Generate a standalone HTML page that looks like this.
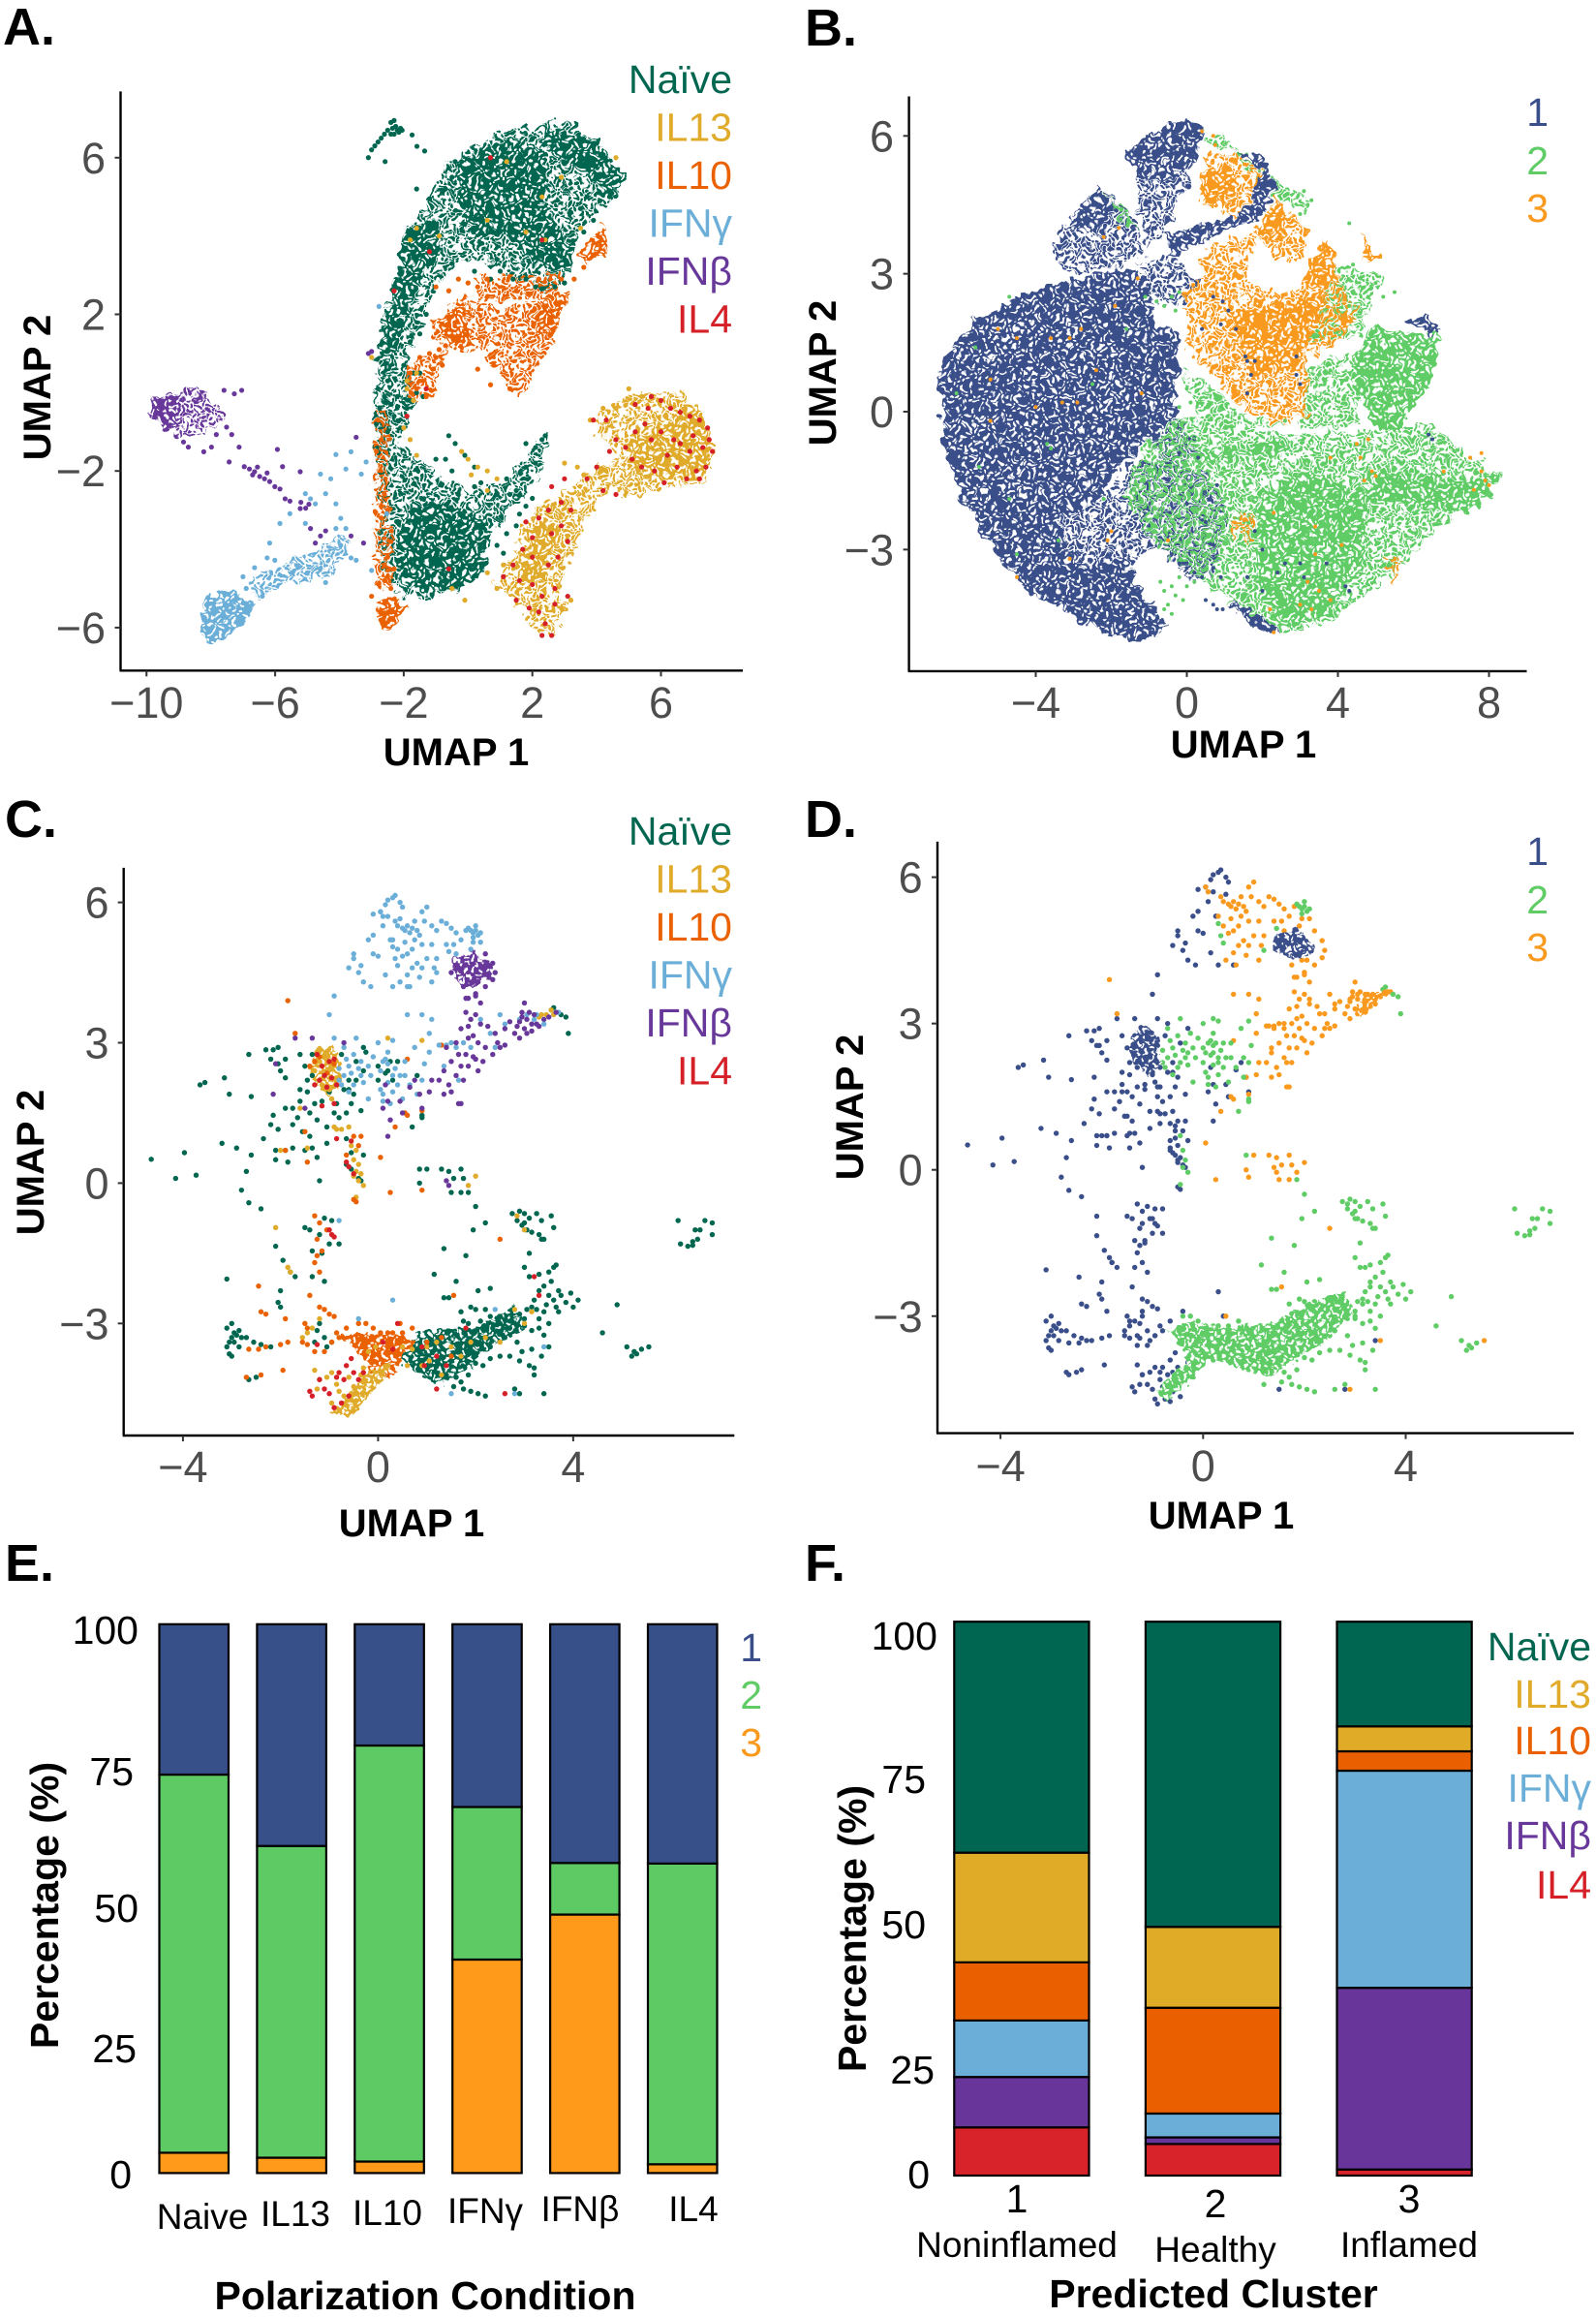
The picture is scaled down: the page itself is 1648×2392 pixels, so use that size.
<!DOCTYPE html>
<html lang="en">
<head>
<meta charset="utf-8">
<title>Macrophage UMAP panels and cluster composition</title>
<style>
html,body{margin:0;padding:0;background:#fff}
svg{display:block}
text{font-family:"Liberation Sans",sans-serif}
.letter{font-size:54px;font-weight:700;fill:#000}
.title{font-size:40px;font-weight:700;fill:#000}
.title41{font-size:41px;font-weight:700;fill:#000}
.leg{font-size:41px;text-anchor:end}
.bt{font-size:41px;fill:#000;text-anchor:end}
.bx{font-size:37px;fill:#000;text-anchor:middle}
.tick{font-size:45px;fill:#4d4d4d}
</style>
</head>
<body>
<svg id="fig" xmlns="http://www.w3.org/2000/svg" width="1648" height="2392" viewBox="0 0 1648 2392">
<rect width="1648" height="2392" fill="#fff"/>
<defs id="defs">
<filter id="roughLarge" filterUnits="userSpaceOnUse" x="0" y="0" width="1648" height="2392" color-interpolation-filters="sRGB">
<feTurbulence type="fractalNoise" baseFrequency="0.09" numOctaves="2" seed="7" result="n"/>
<feDisplacementMap in="SourceGraphic" in2="n" scale="20" xChannelSelector="R" yChannelSelector="G"/>
</filter>
<filter id="roughSmall" filterUnits="userSpaceOnUse" x="0" y="0" width="1648" height="2392" color-interpolation-filters="sRGB">
<feTurbulence type="fractalNoise" baseFrequency="0.14" numOctaves="2" seed="3" result="n"/>
<feDisplacementMap in="SourceGraphic" in2="n" scale="12" xChannelSelector="R" yChannelSelector="G"/>
</filter>
</defs>

<g id="panelA"></g>
<g id="panelB"></g>
<g id="panelC"></g>
<g id="panelD"></g>
<g id="panelE"></g>
<g id="panelF"></g>

<text class="letter" x="3" y="46">A.</text>
<text class="letter" x="831" y="47">B.</text>
<text class="letter" x="5" y="864">C.</text>
<text class="letter" x="831" y="864">D.</text>
<text class="letter" x="5" y="1632">E.</text>
<text class="letter" x="831" y="1632">F.</text>

<text class="title" x="471" y="790" text-anchor="middle">UMAP 1</text>
<text class="title" transform="translate(52,400) rotate(-90)" text-anchor="middle">UMAP 2</text>
<text class="title" x="1284" y="782" text-anchor="middle">UMAP 1</text>
<text class="title" transform="translate(863,385) rotate(-90)" text-anchor="middle">UMAP 2</text>
<text class="title" x="425" y="1586" text-anchor="middle">UMAP 1</text>
<text class="title" transform="translate(45,1200) rotate(-90)" text-anchor="middle">UMAP 2</text>
<text class="title" x="1261" y="1578" text-anchor="middle">UMAP 1</text>
<text class="title" transform="translate(891,1143) rotate(-90)" text-anchor="middle">UMAP 2</text>

<g>
<text class="leg" x="756" y="96" fill="#00664f">Naïve</text>
<text class="leg" x="756" y="145.5" fill="#e0ab2a">IL13</text>
<text class="leg" x="756" y="195" fill="#e96100">IL10</text>
<text class="leg" x="756" y="244.5" fill="#6bafd8">IFNγ</text>
<text class="leg" x="756" y="294" fill="#68379a">IFNβ</text>
<text class="leg" x="756" y="343.5" fill="#d62027">IL4</text>
</g>
<g>
<text class="leg" x="1599" y="130" fill="#3a4f8a">1</text>
<text class="leg" x="1599" y="180" fill="#5fcc66">2</text>
<text class="leg" x="1599" y="229" fill="#f99a1e">3</text>
</g>
<g>
<text class="leg" x="756" y="872" fill="#00664f">Naïve</text>
<text class="leg" x="756" y="921.5" fill="#e0ab2a">IL13</text>
<text class="leg" x="756" y="971" fill="#e96100">IL10</text>
<text class="leg" x="756" y="1020.5" fill="#6bafd8">IFNγ</text>
<text class="leg" x="756" y="1070" fill="#68379a">IFNβ</text>
<text class="leg" x="756" y="1119.5" fill="#d62027">IL4</text>
</g>
<g>
<text class="leg" x="1599" y="893" fill="#3a4f8a">1</text>
<text class="leg" x="1599" y="943" fill="#5fcc66">2</text>
<text class="leg" x="1599" y="992" fill="#f99a1e">3</text>
</g>

<g>
<text class="bt" x="143" y="1697">100</text>
<text class="bt" x="138" y="1843">75</text>
<text class="bt" x="143" y="1984">50</text>
<text class="bt" x="141" y="2129">25</text>
<text class="bt" x="136" y="2259">0</text>
</g>
<g>
<text class="bx" x="209" y="2301">Naive</text>
<text class="bx" x="305" y="2298">IL13</text>
<text class="bx" x="400" y="2297">IL10</text>
<text class="bx" x="501" y="2295">IFNγ</text>
<text class="bx" x="599" y="2293">IFNβ</text>
<text class="bx" x="716" y="2293">IL4</text>
</g>
<text class="title41" x="439" y="2384" text-anchor="middle">Polarization Condition</text>
<text class="title41" transform="translate(60,1967) rotate(-90)" text-anchor="middle">Percentage (%)</text>
<g>
<text class="leg" x="787" y="1715" fill="#3a4f8a">1</text>
<text class="leg" x="787" y="1764" fill="#5fcc66">2</text>
<text class="leg" x="787" y="1813" fill="#f99a1e">3</text>
</g>

<g>
<text class="bt" x="968" y="1703">100</text>
<text class="bt" x="956" y="1851">75</text>
<text class="bt" x="956" y="2001">50</text>
<text class="bt" x="965" y="2151">25</text>
<text class="bt" x="960" y="2259">0</text>
</g>
<g>
<text class="bx" x="1050" y="2284" style="font-size:41px">1</text>
<text class="bx" x="1255" y="2289" style="font-size:41px">2</text>
<text class="bx" x="1455" y="2284" style="font-size:41px">3</text>
<text class="bx" x="1050" y="2330">Noninflamed</text>
<text class="bx" x="1255" y="2335">Healthy</text>
<text class="bx" x="1455" y="2330">Inflamed</text>
</g>
<text class="title41" x="1253" y="2382" text-anchor="middle">Predicted Cluster</text>
<text class="title41" transform="translate(894,1991) rotate(-90)" text-anchor="middle">Percentage (%)</text>
<g>
<text class="leg" x="1643" y="1714" fill="#00664f">Naïve</text>
<text class="leg" x="1643" y="1763" fill="#e0ab2a">IL13</text>
<text class="leg" x="1643" y="1811" fill="#e96100">IL10</text>
<text class="leg" x="1643" y="1860" fill="#6bafd8">IFNγ</text>
<text class="leg" x="1643" y="1909" fill="#68379a">IFNβ</text>
<text class="leg" x="1643" y="1960" fill="#d62027">IL4</text>
</g>
</svg>

<script>
/* ---------- Bar chart data (percent) ---------- */
const eCategories = ['Naive','IL13','IL10','IFNγ','IFNβ','IL4'];
const eCluster3 = [3.7,2.8,2.1,38.9,47.1,1.6];
const eCluster2 = [68.9,56.8,75.8,27.8,9.4,54.8];
const eCluster1 = [27.4,40.4,22.1,33.3,43.5,43.6];

const fCategories = ['Noninflamed','Healthy','Inflamed'];
const fIL4 = [8.7,5.7,1.1];
const fIFNb = [9.1,1.2,32.8];
const fIFNg = [10.2,4.3,39.2];
const fIL10 = [10.5,19.1,3.5];
const fIL13 = [19.8,14.6,4.5];
const fNaive = [41.7,55.1,18.9];

/* ---------- Axis ticks ---------- */
const aXTicks = [-10,-6,-2,2,6];
const aYTicks = [6,2,-2,-6];
const bXTicks = [-4,0,4,8];
const bYTicks = [6,3,0,-3];
const cXTicks = [-4,0,4];
const cYTicks = [6,3,0,-3];
const dXTicks = [-4,0,4];
const dYTicks = [6,3,0,-3];

/* ---------- Panel A: density outlines (UMAP units, x,y,x,y...) ---------- */
const aNaiveSparse = [
 [-2.85,.19,-2.69,1.95,-2.38,2.58,-2.06,3.46,-1.9,4.22,-1.43,4.72,-.95,5.35,-.48,5.98,.47,6.42,1.42,6.74,2.84,6.92,3.94,6.55,4.81,5.6,4.65,5.04,4.1,4.72,3.31,3.84,3.15,2.96,2.52,2.58,1.26,2.96,.47,3.46,-.64,3.08,-1.43,1.95,-1.9,.94,-2.38,-.07],
 [-2.93,-1.07,-2.06,-1.32,-.95,-2.08,.15,-2.58,1.1,-2.2,2.05,-1.32,2.52,-1.07,2.2,-2.08,1.57,-2.84,.63,-3.6,.47,-4.73,-.95,-5.23,-2.06,-5.23,-2.69,-4.47,-2.77,-2.58],
 [-2.9,.3,-1.9,.8,-1.7,-.2,-2,-1.2,-2.9,-1.2]
];
const aNaiveDense = [
 [-.3,5.9,1.3,6.5,2.4,6.2,2.4,4.7,3.3,3.7,3.2,3.1,2.2,3.2,1.3,4.1,.2,3.9,-.3,4.8],
 [2.2,6.8,3.9,6.5,4.9,5.5,4.4,5,3.5,5.7,2.5,6.2],
 [-1.9,4.1,-1.1,4.5,-.8,3.7,-1.6,2.7,-2.1,1.4,-2.5,.4,-2.8,1.2,-2.4,2.5],
 [-1.6,-2.84,-.64,-2.84,.63,-3.2,.47,-4.73,-.95,-5.1,-2.06,-4.98,-2.2,-3.7]
];
const aIL10Sparse = [
 [-1.1,1.82,-.32,2.45,1.26,2.08,2.68,2.58,3.23,2.58,2.68,1.45,2.05,.44,1.73,-.19,1.42,.06,1.02,.44,.47,1.07,-.64,1.07,-1.1,1.45],
 [.2,3,2.9,3,2.7,2.5,.3,2.3],
 [-1.9,.7,-.7,1.1,-1.2,-.2,-1.9,-.2],
 [-2.9,-.5,-2.5,-.5,-2.4,-5,-2.9,-5]
];
const aIL10Dense = [
 [-.95,1.95,0,2.2,.15,1.32,-.64,1.13],
 [2.2,2.2,3.15,2.58,2.68,1.57,2.05,1.32],
 [3.47,3.59,4.26,4.34,4.39,3.59,3.63,3.33],
 [-2.85,-5.29,-2.2,-5.23,-1.9,-5.55,-2.38,-6.05,-2.85,-5.73]
];
const aIL13Sparse = [
 [3.79,-.7,5.2,.06,6.63,-.07,7.5,-.7,7.66,-1.58,7.42,-2.27,6,-2.46,4.73,-2.71,4.26,-2.2,4.57,-1.58],
 [4.1,-1.83,4.73,-2.08,3.63,-3.34,3.15,-4.22,2.84,-5.1,3.15,-5.36,2.52,-6.3,2.05,-5.98,1.42,-5.36,.78,-4.85,1.42,-4.1,1.89,-3.09,3,-2.58]
];
const aIL13Dense = [
 [1.89,-3.34,2.84,-3.47,2.36,-4.85,1.57,-4.73],
 [4.89,-1.33,7.1,-.32,7.5,-1.33,7.26,-2.2,5.2,-2.08]
];
const aIFNgSparse = [[-6.8,-4.73,-5.22,-4.22,-3.8,-3.59,-3.56,-3.84,-4.27,-4.73,-5.54,-4.85,-6.64,-5.23]];
const aIFNgDense = [[-8.22,-5.23,-7.27,-4.98,-6.64,-5.48,-7.43,-6.24,-8.14,-6.43,-8.33,-6.11]];
const aIFNbSparse = [[-9.96,-.51,-9.48,-.07,-8.54,.12,-7.59,-.32,-7.59,-.7,-8.22,-1.07,-9.01,-1.07,-9.64,-.82]];
const aIFNbDense = [[-9.9,-.2,-9,-.07,-9,-.95,-9.64,-.82]];

/* ---------- Panel A: individually readable cells ---------- */
const aNaive = [-3.1,6,-3,6.2,-2.9,6.3,-2.8,6.4,-2.7,6.5,-2.6,6.6,-2.5,6.7,-2.4,6.9,-2.35,6.75,-2.3,6.95,-2.25,6.8,-2.2,6.7,-2.3,6.6,-2.4,6.6,-2.15,6.65,-2.1,6.75,-2.05,6.7,-1.74,6.58,-1.59,6.29,-1.35,6.17,-2.58,5.9,
 -2.8,.1,-2.6,-.1,-2.5,.3,-2.75,-.4,-2.4,-.3,-2.85,-.8,-2.5,-1,-2.3,-.6,-2.1,-.9,-1.9,-.4,-2.2,-.1,-1.8,-.2,-1.7,.5,-1.5,.5,-1.6,0,-1.4,-.1,-2,.7,-1.8,1.3,-1.5,1.5,-1.3,2,-.5,3.3,.2,3.1,.7,2.9,1,3.1,1.4,2.9,1.8,2.9,2.1,2.7,.9,3.4,2.7,2.7,3,2.8,
 -1.6,5.2,-1.2,4.95,-.7,5.2,-.5,5.5,-.2,5.9,-.4,5.9,4.1,4.9,3.7,5,3.5,4.7,3.2,4.6,3.6,4.1,3.9,4.4,4.4,5,4.1,5.1,-.1,4.3,
 -.6,-1.1,-.4,-1.3,-.1,-1.6,.2,-1.9,.4,-2.3,.9,-2.6,1.2,-2.2,2.4,-1.1,2.3,-1.2,2.1,-1.4,2.1,-1.8,1.8,-1.9,1.8,-1.3,1.3,-2.6,1.5,-2.5,-.7,-1.7,-1,-1.7,-.5,-2,.2,-2.4,1.5,-3.4,1.2,-3.6,1.1,-4.1,.9,-3.9,1.6,-3.1,1.8,-2.9,2,-2.7];
const aIL13 = [-1.8,3.9,-1.6,4.2,-.9,4,.6,4.4,1.2,5.9,2.3,5,2.9,5.5,3.5,4.2,4.6,6,2.4,3.9,1.8,4.1,5.4,-.1,5,.1,3.8,-.7,4.2,-.4,4.6,-.4,3.4,-1.9,3,-1.8,3.6,-2.1,-.1,-5.3,-.5,-5,1.1,-4.4,.6,-4.6,.9,-5,2.9,-5.5,3.2,-5.3,-1.7,-.2,-1.9,.1,-2,-.9,-1.8,-1.2,-1.6,-1.6,-.2,-1.5,0,-1.7,.3,-1.9,.6,-2,.9,-2.2,.1,-2.1,.6,-2.5,-1.9,.3,-1.6,.5,-3,.9];
const aIL10 = [-2.8,-.7,-2.7,-1.2,-2.85,-1.5,-2.6,-2.6,-2.5,-3,-2.7,-3.2,-2.4,-3.8,-2.5,-4.2,-2.3,-4.5,-2.6,-4.8,-2.4,-5,-3,-5.2,-2.7,-2.9,-2.6,-4.4,-2.5,-4.7,-1.8,.5,-1.5,.9,-1.2,1,-1.6,.1,-1.4,.3,-1.1,.6,-1,.9,-.9,1.1,-1.3,-.1,-.8,.7,-.7,1.2,-.3,2.9,0,2.8,.3,2.7,.6,2.9,-.6,2.6,-1,2.7,1.5,2.6,1.9,2.5,2.2,2.9,2.9,2.9,3.3,2.9,3.6,3.2,.3,.6,.7,.2,1.3,.1,.8,.7];
const aIFNg = [-6.17,-3.84,-6.25,-4.22,-6.64,-4.47,-5.54,-3.09,-5.85,-3.34,-5.06,-2.58,-4.59,-2.08,-4.11,-1.58,-3.64,-1.51,-3.17,-1.77,-4.43,-2.58,-4.11,-2.84,-3.96,-3.21,-3.8,-3.47,-4.75,-2.84,-5.06,-3.34,-4.43,-4.85,-3.48,-4.28,-3,-4.54,-2.53,-3.09,-2.77,2.2,-3.8,-1.95,-4.27,-2.2,-3.32,-2.08,-5.46,-4.6,-6.01,-4.28,-4.9,-2.71,-4.11,-3.47,-3.96,-3.9,-3.64,-4.22,-7,-4.7,-6.9,-5,-6.4,-5.2,-4.6,-4.5,-5,-4.6];
const aIFNb = [-7.35,-1.07,-7.12,-1.39,-7.43,-1.77,-6.96,-1.89,-6.8,-1.95,-6.64,-2.02,-6.48,-2.14,-6.33,-2.2,-6.17,-2.27,-6.01,-2.4,-5.85,-2.46,-5.69,-2.71,-5.54,-2.77,-5.22,-2.96,-5.93,-1.45,-5.77,-1.89,-5.22,-2.02,-4.9,-3.47,-4.43,-3.53,-4.59,-3.66,-4.75,-3.84,-3.64,-3.66,-3.25,-3.84,-7.04,.06,-7.27,-.03,-7.59,.06,-7.98,-1.39,-8.22,-1.51,-8.7,-1.39,-8.85,-1.26,-7.83,-1.07,-7.51,-.88,-3.48,-1.14,-6.7,-2.1,-6.55,-1.9,-6.25,-2.05,-5.2,-2.8,-4.95,-2.85,-5.05,-2.95,-3.1,1,-3,1.05];
const aIL4 = [5.2,-.3,5.7,-.1,6,-.2,6.3,-.4,6.6,-.5,6.9,-.6,7.2,-.7,7.45,-.9,7.5,-1.2,7.6,-1.5,7.4,-1.9,7.1,-2,6.8,-2.2,6.5,-1.9,6.2,-1.6,6.4,-1.2,6,-1,5.7,-1.2,5.5,-.8,5.2,-1,4.9,-1.4,5.1,-1.7,5.4,-1.9,5.8,-2,6.1,-2.3,6.6,-1.3,6.9,-1.5,7,-1.1,7.3,-1.4,7.2,-2.2,5.6,-.4,4.3,-.7,3.9,-.7,4.6,-1.2,4.4,-1.5,4,-1.9,3.7,-2.2,4.2,-2.5,4.6,-2.6,
 3,-2.2,2.6,-2.4,2.9,-2.8,3.2,-3,2.5,-3,2.2,-3.2,1.8,-3.3,2,-3.7,2.6,-3.6,2.9,-3.4,3.1,-3.8,1.7,-4,2,-4.2,2.5,-4.4,2.8,-4.2,1.4,-4.4,1.6,-4.8,2,-4.9,2.3,-5.2,2.7,-5,1.5,-5.3,1.9,-5.5,2.2,-5.6,2.4,-5.9,2.6,-6.2,2.3,-6.2,2.7,-5.4,3.1,-5.2,1.1,-4.7,-.6,-4.5,-1.3,.1,-1.9,-.6,-2.3,2.6,-1.2,3.6,2.3,3.9,.7,6];

/* ---------- Panel B: density outlines ---------- */
const bCl1Sparse = [
 [-3.42,3.9,-2.34,4.87,-1.4,4.22,-1.13,3.58,-1.67,3.15,-3.29,3.04,-3.56,3.58],
 [-1.54,-1.04,.48,-1.26,1.16,-2.33,.75,-3.41,.22,-3.73,-.86,-2.87,-1.94,-1.8],
 [-1.4,5.19,.22,5.41,-.59,3.8,-1,3.58,-1.27,4.44],
 [-1.3,3.3,-.2,3.4,.3,2.8,-.3,2.2,-1,2.6],
 [-3.5,-2.2,-1.9,-1.7,-.7,-2.9,-1.67,-3.3,-3,-3.3],
 [-1,-.4,-.2,-.1,.4,-.9,-.6,-1.4]
];
const bCl1Dense = [
 [-6.59,.78,-6.25,1.43,-5.58,1.97,-4.5,2.5,-3.29,2.83,-2.21,3.04,-1.4,3.1,-1,2.72,-.86,1.97,-.19,1.65,-.26,.46,-.32,-.08,-.86,-.51,-1.67,-1.04,-2.07,-1.53,-2.21,-1.8,-2.75,-2.12,-3.42,-2.33,-3.02,-3.19,-2.48,-3.3,-1.67,-3.19,-.59,-4.7,-1,-4.97,-2.21,-4.86,-3.15,-4.38,-4.36,-3.84,-5.17,-2.98,-5.98,-1.9,-6.45,-.61],
 [-3.02,4.23,-2.34,4.82,-1.94,4.44,-2.34,3.9,-3.02,4.05],
 [-1.67,5.62,-.86,6.1,.08,6.32,.48,6.05,.22,5.41,-.59,4.98,-1.4,5.19],
 [-.59,3.8,.48,4.12,1.56,4.33,2.03,5.52,2.3,4.87,2.1,4.33,1.16,3.96,.22,3.69,-.46,3.37],
 [1.02,5.73,1.97,5.52,2.03,5.19,1.43,5.62],
 [1.16,-4.05,1.56,-4.27,2.5,-4.81,1.83,-4.7,1.16,-4.27],
 [5.74,1.97,6.28,2.08,6.75,1.75,6.61,1.59,6,1.86]
];
const bCl2Sparse = [
 [-.19,-.08,2.91,-.5,4.93,-.4,6.41,-.29,7.35,-.83,8.36,-1.42,7.76,-2.01,6.68,-2.44,6.41,-2.76,5.87,-3.3,4.93,-3.84,3.72,-4.59,2.5,-4.81,1.16,-4.17,.48,-3.73,-.86,-2.87,-1.67,-1.8,-1.13,-.72],
 [.35,6.16,.89,5.95,1.83,5.52,2.37,4.98,3.31,4.66,3.18,4.33,2.24,4.66,1.16,5.73,.48,5.84],
 [-2.21,4.71,-1.67,4.44,-1.27,3.9,-1.67,4.12],
 [2.9,1.5,4.5,1.6,5.2,3,4,3.2],
 [-.2,.9,.7,.5,1.4,0,2.5,-.3,.5,-.3],
 [3.2,1,4.4,1.3,4.6,-.3,3,-.4]
];
const bCl2Dense = [
 [1.83,-1.8,3.18,-1.26,4.79,-1.8,4.66,-3.41,3.72,-4.38,2.5,-4.7,1.83,-3.73],
 [.08,-.94,2.64,-.61,2.64,-.88,.22,-1.15],
 [4.79,-1.26,5.87,-1.37,7.76,-1.47,8.16,-1.26,8.3,-1.47,7.35,-2.23,5.6,-2.01,4.79,-1.9],
 [4.93,1.86,6.68,1.65,6.55,.78,6.01,.14,5.6,-.51,4.93,-.29,4.39,.68,4.39,1.32]
];
const bCl3Sparse = [
 [-.05,2.72,.48,2.94,1.43,2.94,2.5,2.51,3.18,2.83,3.58,3.69,3.99,3.37,4.05,2.83,4.53,2.08,4.12,1.54,3.18,1.22,3.18,-.08,2.5,-.29,1.56,.03,.75,.78,-.05,1.43],
 [.48,3.58,1.83,3.9,1.56,2.94,.35,2.83],
 [1.29,-2.12,1.83,-2.23,1.7,-2.87,1.29,-2.76],
 [5.2,-3.19,5.74,-3.19,5.47,-3.73],
 [.4,4.5,1.5,4.2,2.2,5,1.5,5.6,.5,5.6],
 [1.8,3.9,2.6,3.2,3.3,3.4,3.1,4,2.4,4.7]
];
const bCl3Dense = [
 [1.16,2.18,2.77,2.4,3.58,2.61,3.72,2.51,3.45,1.97,2.91,1,1.83,.68,1.29,1.65],
 [3.18,3.15,3.65,3.69,3.99,3.26,3.99,2.83,3.04,2.61],
 [3.99,2.08,4.53,2.08,4.12,1.54],
 [.35,5.19,1.02,5.41,1.29,4.87,.89,4.44,.35,4.66],
 [1.83,3.9,2.37,4.66,2.84,4.23,2.37,3.69],
 [4.59,3.9,5.13,3.37,4.79,3.2]
];

/* ---------- Panel B: individually readable cells ---------- */
const bCl1 = [.7,2.5,.95,2.4,1.1,2.2,1.3,1.8,1.55,1.2,1.6,1.1,1.7,.8,.4,1.8,1.6,.4,2.9,.8,3,.6,2.9,1.2,.9,1.9,1.8,1.1,2,-3,2.4,-3.5,2.6,-3.3,3,-3.3,3.1,-3.6,3.7,-3.3,4.2,-3.8,4.3,-3.9,1.8,-2.6,1.6,-3.6,2,-3.9,.3,-1,-.2,-.9,.8,-1.6,0,-2,.5,-2.4,.7,-2.9,6.4,-.5,6.5,-.6,-.4,-3.1,-.2,-3.3,0,-3.4,.2,-3.5,.4,-3.6,.7,-3.4,.9,-3.6,.5,-4.1,.7,-4.2,.8,-4.3,.95,-4.3];
const bCl2 = [-5.6,1.4,-4.7,2.5,-6.1,.4,-3.7,-.7,-1.6,1.8,-1.1,2.5,-.8,2.4,-.6,2.3,-2.5,.6,-3.6,-.8,-5.5,-1.2,-4.7,-1.9,-3.4,-2.8,-4.5,-3.1,-1.5,-2,-2.2,-1.9,4.4,3.2,4.6,2.9,5,2.8,5.2,2.5,4.8,2.5,5.5,2.6,4.3,2.3,3.4,.3,2.6,-.2,3.8,.9,3.7,.2,3.5,.8,-.3,2.2,-.2,2.6,-.4,2.5,.1,.2,-.2,.1,0,.5,-.7,-3.7,-.6,-3.9,-.4,-3.8,-.3,-4,-.5,-4.2,-.2,-3.6,0,-3.8,.2,-3.7,-.4,-4.4,-.6,-4.3,-.1,-4.1,4.3,4.1,3.1,4.8,3.3,4.6,3.2,4.5,3,4.3];
const bCl3 = [-4,.1,-3.3,.2,-2.9,.2,-5.2,-.2,-5.2,.7,-3.6,1.6,-3.1,1.6,-2.4,.9,-1.9,2.3,-2.8,1.8,-1.3,2.9,-5,1.8,-4.5,1.6,-1.2,.4,-3.1,-3.2,-2.1,-2.8,-2,-2.6,-4.5,-3.6,-1.8,4,-2.2,3.8,-.5,-2.8,4.5,-.7,4.8,-.6,4.6,-1,4.9,-1.3,5,-1.4,4.7,-1.5,3.8,-1,7.5,-1,7.8,-.9,7.8,-1.3,7.9,-1.5,7.6,-1.7,8,-1.6,6.8,-1.3,3.2,-3.7,3.5,-3.9,3.3,-4.3,3,-4.2,2.2,-4.3,2.3,-4.8,3.8,-4.1,4.1,-2.9,3.4,-2.5,2.3,-2.2,3.4,-3.1,.4,6.1,.7,6,.75,5.8,.6,5.6];

/* ---------- Panels C and D: cells grouped by condition and cluster ---------- */
const naiveCl1 = [-3.65,2.1,-3.55,2.15,-3.15,2.25,-3.05,1.9,-2.6,1.85,-2.65,2.75,-2.3,2.85,-2.15,2.85,-2.05,2.9,-2.2,2.65,-1.9,2.65,-2.05,2.55,-2,2.4,-1.9,2.25,-1.6,2.75,-1.35,2.75,-1.35,2.3,-1.6,1.75,-1.9,1.6,-1.75,1.6,-1.4,1.5,-1.3,1.7,-1.45,1.95,-1.6,2,-1.65,1.4,-1.75,1.25,-2.15,1.45,-2.2,1.25,-2.05,1.15,-1.55,1.1,-1.4,1,-1.05,1.2,-1.25,1.35,-.9,1.5,-.8,1.4,-.65,1.5,-.55,1.7,-.35,1.55,-.5,1.9,-1,1.95,-1.15,1.75,-.85,1.7,-.6,2,-1.05,.85,-1.35,.75,-1.5,.7,-.65,.95,-.55,.65,-.65,.4,-.55,.3,-.3,.6,
 -3.2,.85,-2.9,.75,-2.6,.6,-2.35,.95,-2.1,.7,-2.1,.5,-1.85,.45,-1.9,.7,-1.25,.55,-1.75,.75,-3.97,.65,-4.15,.1,-3.73,.17,-4.65,.51,-2.7,.25,-2.8,-.15,-2.65,-.42,-2.4,-.55,-1.2,.05,-.4,.1,-.35,.05,
 -3.1,-3.1,-3,-3,-2.95,-3.2,-2.85,-3.15,-2.8,-3.3,-3.05,-3.4,-3.1,-3.5,-3.05,-3.65,-2.95,-3.4,-2.85,-3.5,-2.7,-3.3,-2.9,-3.25,-3,-3.3,-2.55,-3.4,-2.4,-3.45,-2.2,-3.5,-3,-3.7,-2.5,-4.15,-2.65,-4.2,
 -3.1,-2.05,-2.1,-1.35,-1.95,-1.65,-1.8,-1.9,-1.7,-2,-1.4,-1,-1.35,-2,-1.1,-2.1,-2,-2.3,-2.05,-2.55,-2,-2.65,-1.5,-.95,-1.1,-.75,-.95,-.8,-1.2,-1.1,-1,-1.3,-1.35,-1.45,-1.15,-1.5,-.8,-1.3,-1.2,-3,-1.25,-3.15,-1.1,-3.3,-.95,-3.4,-1.3,-3.4,-1.05,-3.5,-1.5,2.5,-1.45,2.2,-.75,2.75,-.7,2,-.6,2.2,-.45,2.6,-.3,2.9];
const naiveCl2 = [2.75,-.65,2.9,-.6,3,-.65,3.1,-.75,3.25,-.65,3.35,-.8,3.55,-.7,2.85,-.8,3,-.85,3.05,-1,3.15,-1.05,3.3,-1.1,3.4,-1.2,3.35,-1.2,2.95,-.9,3.6,-.95,3.1,-1.5,3,-1.8,3.1,-2,3.3,-1.95,3.5,-1.9,3.55,-2.1,3.6,-1.8,3.65,-1.75,3.4,-2.2,3.3,-2.3,3.5,-2.4,3.6,-2.5,3.45,-2.6,3.7,-2.3,3.75,-2.4,3.85,-2.55,3.95,-2.35,3.2,-2.5,3.05,-2.7,3.15,-2.65,3.25,-2.7,3.3,-2.9,3.5,-3,3,-2.9,2.9,-2.8,3.4,-2.75,3.65,-2.65,3.7,-2.75,4,-2.65,4.1,-2.5,3.3,-3.1,3.15,-3.15,3,-3.05,2.85,-3.05,3.4,-3.25,
 2.7,-3.1,2.5,-3,2.3,-2.85,2.2,-2.7,2,-2.7,1.9,-2.65,1.7,-2.75,1.75,-2.95,1.85,-3,2.1,-2.95,2.35,-3.1,2.6,-3.3,2.85,-3.4,2.95,-3.6,3.15,-3.55,3.35,-3.7,2.9,-3.8,3.1,-3.9,3.2,-3.95,2.7,-3.7,2.5,-3.7,2.3,-3.75,2.15,-3.9,2,-3.85,1.85,-4.1,1.7,-4.25,1.55,-4.35,1.75,-4.4,1.9,-4.45,2.05,-4.5,2.2,-4.55,1.6,-4.15,1.4,-4.1,1.2,-4.05,3.4,-4.5,2.8,-4.4,3.2,-4.1,
 1.85,-.2,2,-.5,1.95,-1,2.2,-.85,1.35,-1.4,1.8,-1.55,1.15,-1.95,1.6,-2.1,1.45,-2.45,1.35,-2.45,2.05,-2.3,2.3,-2.25,4.9,-2.6,4.6,-3.2,5.1,-3.5,5.2,-3.7,5.3,-3.65,5.4,-3.55,5.25,-3.6,6.15,-.8,6.7,-.8,6.85,-.85,6.5,-1,6.6,-1,6.55,-1.2,6.45,-1.25,6.2,-1.3,6.35,-1.35,6.45,-1.33,6.85,-1.1,
 0,2.5,.15,2.35,.25,2.6,.3,2.2,.4,2.6,-.3,2.4,-.45,2.2,-.25,2.8,.8,2.3,.9,1.45,.9,1.4,.7,1.2,3.9,3.2,3.55,3.7,3.75,3.6,3.85,3.55,3.6,3.75,.85,.3,0,2.2,.2,2.4];
const naiveCl3 = [.85,0,1,.3,1.3,.3,1.45,.25,1.7,.3,1.55,.1,1.75,.1,1.5,-.2,1.7,-.2,5.55,-3.5,3.5,-3.5,2.3,-3.5,2.9,-4.5];
const il13Cl1 = [-1.3,-4,-1.2,-4.2,-1.25,-4.4,-1.05,-4.15,-.95,-4.05,-.85,-4.3,-.8,-4.45,-.95,-4.7,-.7,-4.55,-.6,-4.15,-.55,-4.5,-.5,-4.35,-.35,-4.1,-.3,-3.95,-.45,-4.65,-.65,-4.75,-1.3,2.4,-1.2,2.6,-1.05,2.8,-.95,2.45,-1.15,2.1,-1,2,-.95,1.8,-.9,1.2,-.85,1.15,-.75,1.15,-.6,1.2,-.55,.8,-.5,.5,-.45,.25,-.5,.15,-1.45,.75,-1.6,1.6,-2,.7,-2.1,-.95,-1.85,-1.8,-1.8,-1.9,-1.35,-3.1,-1.45,-3.2,-1.55,-3.3,-1.2,-2.9];
const il13Cl2 = [-.45,.7,-.4,.4,-.35,.2,-.4,.05,-.3,-.05,-.45,-.3,.2,3.1,.9,3.05,-.05,-3.5,-.2,-3.6,.5,-3.5,.7,-3.55,1,-3.5,1.2,-3.4,1.5,-3.5,1.7,-3.7,1.9,-3.4,2.2,-3.3,2.5,-3.4,3,-3,2.8,-2.7,1.05,-3.8,1.3,-4.1,.6,-3.9,.9,-3.9,.2,-3.9,3.15,-2.75,2.85,-.7,3,-1];
const il13Cl3 = [3.35,3.6,3.45,3.6,3.55,3.7,3.6,3.6,3.3,3.55,2,.15,1.85,-.05];
const il10Cl1 = [-2.45,-2.2,-2.4,-2.75,-2.3,-2.8,-1.45,-3.45,-1.5,-3,-1.45,-3.1,-1.2,-2.65,-1.1,-2.7,-1,-2.8,-.9,-2.85,-.85,-3.2,-1.3,-1.7,-1.25,-1.55,-1.3,-.7,-1.2,-.85,-1.05,-1,-1.25,-1.2,-1.15,-1.45,-1.2,-1.9,-1.4,-2.4,-1.9,-2.9,-1.85,-3.4,-2.3,-3.5,-2.65,-3.55,-2.45,-3.55,-2.7,-4.15,-2.4,-4.1,-1.95,-4,-2,-3.45,-1.55,-3.4,-1.3,-3.6,-1.1,-3.6,-.95,-3.4,-.8,-3.3,-.65,-3.1,-.65,.6,-.5,1,-.35,1,-.4,.8,-.45,-.4,-.5,-.35,-1.5,1.1,-1.9,.7,-1.45,.45,-1.2,2.7,-1.05,2.35,-.9,2.55,-1.3,2.6,-1.4,2.5];
const il10Cl2 = [-.4,-3,-.25,-3,-.1,-3.1,.05,-3.2,.3,-3.2,.5,-3.2,.7,-3.1,-.1,-3.7,.2,-3.2,.5,-3.3,1,-3.4,1.3,-3.3,1.5,-3.7,-.3,-3.35];
const il10Cl3 = [-1.85,3.9,.85,1.9,.55,1.5,.35,1.2,.05,.55,.25,-.2,.9,-.15,.6,1.45,1.3,2.95,.6,2.65,.9,1.55,2.5,-1.2,1.55,-2.4,-1.7,3.2,.45,-3];
const ifngCl1 = [.3,6.1,.2,6.05,.35,6.15,.45,6,.05,5.8,.1,5.5,-.1,5.3,-.2,5.2,-.5,4.8,-.6,4.6,-.4,4.5,-.3,4.3,-.15,4.2,0,4.85,.15,4.45,.3,4.2,-.1,5.75,.15,5.95,.2,5.7,-.5,4.9,-.35,4.65,-.1,4.9,.6,4.2,.5,5.9,.45,5.65,.25,5.2,-.9,4,-1,3.6,-.9,3.1,-.8,-.8,2.4,-2.7,.3,-2.5,1.5,-4.5,2.8,-4.5,3.4,-3.5,-.4,-2.9];
const ifngCl2 = [1.9,5.4,1.95,5.35,2,5.4,2.05,5.3,1.85,5.45,2,5.5,2.1,5.35,1.95,5.25,.3,5.05,.35,4.8,.4,4.65,1.2,4.5,1.45,4.95,-.7,2.9,-.5,2.75,-.35,2.6,-.6,2.5,-.7,2.3,-.5,2.1,-.35,2.3,-.2,2.5,-.1,2.7,.1,2.6,.2,2.55,.35,2.45,.45,2.3,.2,2.15,.05,2,.3,1.95,.1,1.75,-.2,1.8,.55,2.3,.55,2.6,.75,2.9,.3,3.05,.2,2.8,0,3,-.45,3.1,-.8,2.2,.65,2.1,.9,2.2,.8,1.9,.5,1.8,.95,2.55,-.8,2.45,-.65,2.65,-.55,2.35,-.75,2.1,-.6,1.95,-.4,2.45,-.3,2.15,-.15,2.3,.05,2.4,.15,2.65,.3,2.3,.4,2.1,.1,1.9,.25,1.7];
const ifngCl3 = [.05,5.8,.1,5.7,.35,5.6,.4,5.5,.5,5.45,.55,5.4,.6,5.5,.65,5.35,.7,5.45,.8,5.4,.85,5.3,.75,5.6,.9,5.8,1,5.9,.95,5.6,1.1,5.5,1.2,5.4,1.3,5.6,1.4,5.55,1.5,5.45,1.6,5.35,1.7,5.2,1.8,5.4,.3,5.2,.4,5,.5,4.85,.6,4.9,.7,5,.8,4.7,.9,4.6,1,4.8,1.1,5.1,1.15,4.6,.85,4.4,.6,4.45,.45,4.3,1.2,4.8,1.4,5.1,1.55,5.1,.9,5.1,.75,5.2,.55,5.15,.7,4.6,.65,4.2,1.1,4.3,1.95,5.15,2.1,5.15,1.6,4.9,1.9,5,
 1.25,2.95,1.4,2.95,1.5,3,1.6,2.9,1.75,3,1.1,3.5,.9,3.6,1.05,3.2,.6,3.6,2.1,3.5,2.3,3.2,2.5,3.6,1.9,2.9,1.65,2.2,1.35,2.5,1.05,2.8,2.9,3.5,3.05,3.6,3.2,3.5,3.25,3.6,3.4,3.4,3.7,3.65,2.6,3.4,2.4,2.9];
const ifnbCl1 = [.9,1.6,.85,1.9,.75,2.2,.65,2.05,.45,1.75,.2,1.75,.25,1.35,.2,1,.5,1.5,.15,2.1,.1,1.6,-.7,3,-1.35,3.1,-1.7,3.1,-2.15,1.9,-1.5,1.6,-2.1,2.55];
const ifnbCl3 = [1.5,4.5,2.2,4.9,2.35,4.7,2.4,4.5,2.35,4.35,2.2,4.2,2,4.05,1.85,3.95,1.75,4.2,1.95,4.3,2.05,4.3,1.8,3.95,2,4,2.1,3.85,1.7,3.3,1.85,3.35,1.9,3.5,1.8,3.65,2,3.6,2.1,3.4,2.25,3.35,1.95,3.15,2.05,3,2.2,2.9,2.35,2.75,2.45,3,2.5,2.9,2.4,3.2,2.6,2.95,2.15,2.6,2,2.65,1.85,2.5,1.8,2.75,1.7,2.5,1.65,2.75,1.5,2.6,1.6,3,1.4,2.9,1.35,2.4,1.6,2.3,1.75,2.2,1.45,2.1,1.25,2.2,1.1,2.2,1.05,1.95,1.35,1.9,1.5,1.95,2.05,2.4,1.95,2.7,1.7,1.7,1.65,1.7,1.85,3.1,2.6,3.3,2.7,3.45,
 2.8,3.2,2.85,3.35,2.9,3.45,2.95,3.55,3,3.3,3.05,3.5,3.1,3.65,3.15,3.4,3.2,3.6,3.25,3.4,3.3,3.35,2.95,3.65,3.05,3.2,2.9,3.1,3.15,3.25,3.4,3.5,3.5,3.55,3.65,3.65,3,3.85,1.4,.05,1.45,-.05];
const il4Cl1 = [-1.25,2.75,-1.15,2.5,-1.1,2.3,-1,2.6,-.95,2.25,-1.05,2.05,-1.2,2.2,-1.3,2.1,-.9,2.65,-.85,2.1,-1.15,1.65,-.9,1.7,-.85,.95,-.55,.9,-.6,.35,-.5,.2,-.65,.45,-1,-1,-.95,-1.1,-.9,-1.15,-1.4,-4.45,-1.35,-4.55,-1.1,-4.4,-.9,-4.8,-1,-4.5,-.85,-4.15,-.7,-4.2,-.75,-4.7,-.6,-4.55,-.5,-4.05,-.4,-4.2,-.3,-4.05,-1.25,-3.45,-1.2,-4.2,-.65,-3.9,-.8,-4.05,-.55,-3.75,.4,-3];
const il4Cl2 = [.1,-3.4,.3,-3.55,.9,-3.5,1.2,-3.7,1.8,-3.1,1.4,-3.9,2.6,-4.5,1.2,-4.4,3.2,-2,3.3,-2.4,.95,-3.9];

/* ---------- Panels C and D: dense outlines ---------- */
const cIL13Dense = [[-1.3,2.9,-.9,2.95,-.75,2.5,-.8,2,-1.1,1.9,-1.4,2.3],[-.8,-4.75,-.2,-4,.3,-3.85,0,-4.35,-.5,-4.95,-1,-4.95]];
const cIL10Dense = [[-.8,-3.25,-.3,-3.2,.2,-3.25,.8,-3.35,.5,-3.75,.25,-4.15,-.15,-4.15,-.15,-3.85,-.45,-3.6]];
const cNaiveDense = [[.3,-3.6,1,-3.15,2,-3.1,2.8,-2.6,3,-3.1,2.1,-3.65,1.8,-4.05,1.2,-4.3,.7,-4]];
const cIFNbDense = [[1.55,4.8,1.9,4.95,2.3,4.7,2.35,4.45,1.9,4.2,1.55,4.4]];
const dCl1Dense = [[-1.4,2.8,-1.15,3,-.9,2.7,-.85,2.2,-1.05,1.9,-1.4,2.2],[1.4,4.8,1.8,4.95,2.2,4.6,2.15,4.4,1.7,4.35,1.4,4.5]];
const dCl2Dense = [[-.7,-3.3,-.2,-3.15,.6,-3.25,1.5,-3.1,2.2,-2.7,2.8,-2.5,3,-2.9,2.4,-3.5,1.8,-3.9,1.3,-4.25,.7,-4.05,.2,-3.85,-.4,-4.45,-.75,-4.75,-.9,-4.5,-.3,-3.9,-.4,-3.65]];
const dCl3Dense = [[3,3.35,3.35,3.6,3.7,3.7,3.45,3.45,3.1,3.15]];

/* ---------- Colours ---------- */
const colNaive = '#00664f', colIL13 = '#e0ab2a', colIL10 = '#e96100', colIFNg = '#6bafd8', colIFNb = '#68379a', colIL4 = '#d62027';
const colCl1 = '#3a4f8a', colCl2 = '#5fcc66', colCl3 = '#f99a1e';
const barCl1 = '#38508a', barCl2 = '#5dca63', barCl3 = '#ff9a1a';
const barNaive = '#006652', barIL13 = '#e0ab27', barIL10 = '#ea6000', barIFNg = '#6bafd9', barIFNb = '#68369a', barIL4 = '#d8232a';

const SVGNS = 'http://www.w3.org/2000/svg';
function make(tag, attrs, parent) {
  const el = document.createElementNS(SVGNS, tag);
  for (const k in attrs) el.setAttribute(k, attrs[k]);
  parent.appendChild(el);
  return el;
}

const defs = document.getElementById('defs');
const textures = {};
let textureCount = 0;
const speckSpots = [3,4,11,2,19,5,7,10,15,9,22,12,2,15,10,16,18,17,5,21,13,22,21,21];
const dotSpots = [2,3,8,1,14,4,20,2,5,8,11,9,17,8,23,10,2,13,8,14,14,13,20,15,5,18,11,19,17,20,23,20,2,22,9,23];
function texture(color, density) {
  const key = color.slice(1) + '-' + density;
  if (textures[key]) return textures[key];
  textureCount += 1;
  const shift = 'translate(' + ((textureCount * 7) % 24) + ' ' + ((textureCount * 11) % 24) + ')';
  const p = make('pattern', {id:'tex-' + key, width:24, height:24, patternUnits:'userSpaceOnUse', patternTransform:shift}, defs);
  
  
  if (density === 'dense') {
    make('rect', {width:24, height:24, fill:color}, p);
    for (let i = 0; i < speckSpots.length; i += 2) {
      make('circle', {cx:speckSpots[i], cy:speckSpots[i+1], r:1.9, fill:'#fff'}, p);
    }
  } else {
    for (let i = 0; i < dotSpots.length; i += 2) {
      make('circle', {cx:dotSpots[i], cy:dotSpots[i+1], r:2.3, fill:color}, p);
    }
  }
  textures[key] = 'url(#tex-' + key + ')';
  return textures[key];
}

/* ---------- Drawing helpers ---------- */
function regionLayer(parent, filterId) {
  const g = make('g', {filter:'url(#' + filterId + ')'}, parent);
  
  
  return g;
}
function drawRegions(parent, regions, color, density, xf, yf) {
  regions.forEach(function (flat) {
    const pts = [];
    for (let i = 0; i < flat.length; i += 2) pts.push(xf(flat[i]) + ',' + yf(flat[i+1]));
    const poly = make('polygon', {points:pts.join(' '), fill:texture(color, density)}, parent);
    
    
  });
}
function drawPoints(parent, flat, color, r, xf, yf) {
  for (let i = 0; i < flat.length; i += 2) {
    const c = make('circle', {cx:xf(flat[i]), cy:yf(flat[i+1]), r:r, fill:color}, parent);
    
    
  }
}
function fmt(v) { return String(v).replace('-', '\u2212'); }
function drawAxes(parent, box, xTicks, yTicks, xf, yf, xBase, yRight) {
  const yLine = make('line', {x1:box.left, x2:box.left, y1:box.top, y2:box.bottom, stroke:'#000', 'stroke-width':2.4}, parent);
  
  
  const xLine = make('line', {x1:box.left-1, x2:box.right, y1:box.bottom, y2:box.bottom, stroke:'#000', 'stroke-width':2.4}, parent);
  
  
  xTicks.forEach(function (t) {
    const m = make('line', {x1:xf(t), x2:xf(t), y1:box.bottom, y2:box.bottom+6, stroke:'#333', 'stroke-width':2}, parent);
    
    
    const l = make('text', {x:xf(t), y:xBase, 'text-anchor':'middle', 'class':'tick'}, parent);
    
    
    l.textContent = fmt(t);
  });
  yTicks.forEach(function (t) {
    const m = make('line', {x1:box.left-6, x2:box.left, y1:yf(t), y2:yf(t), stroke:'#333', 'stroke-width':2}, parent);
    
    
    const l = make('text', {x:yRight, y:yf(t)+16, 'text-anchor':'end', 'class':'tick'}, parent);
    
    
    l.textContent = fmt(t);
  });
}
function drawStack(parent, series, colors, xf, w, yf) {
  series[0].forEach(function (_, i) {
    let cum = 0;
    series.forEach(function (vals, s) {
      const y0 = yf(cum), y1 = yf(cum + vals[i]);
      const r = make('rect', {x:xf(i), y:y1, width:w, height:y0 - y1, fill:colors[s], stroke:'#000', 'stroke-width':2.2}, parent);
      
      
      cum += vals[i];
    });
  });
}

/* ---------- Axis functions ---------- */
const xA = v => 483.3 + 33.2 * v,  yA = v => 405.35 - 40.43 * v;
const xB = v => 1225.5 + 39 * v,   yB = v => 425 - 47.45 * v;
const xC = v => 390.4 + 50.37 * v, yC = v => 1221.4 - 48.3 * v;
const xD = v => 1242.3 + 52.3 * v, yD = v => 1207.7 - 50.35 * v;
const yE = v => 2243.4 - 5.666 * v, xE = i => 164.5 + i * 100.9;
const yF = v => 2246 - 5.718 * v,   xF = i => 985.3 + i * 197.6;

/* ---------- Panel A ---------- */
const gA = document.getElementById('panelA');
const layerA = regionLayer(gA, 'roughLarge');
drawRegions(layerA, aNaiveSparse, colNaive, 'sparse', xA, yA);
drawRegions(layerA, aIL10Sparse, colIL10, 'sparse', xA, yA);
drawRegions(layerA, aIL13Sparse, colIL13, 'sparse', xA, yA);
drawRegions(layerA, aIFNgSparse, colIFNg, 'sparse', xA, yA);
drawRegions(layerA, aIFNbSparse, colIFNb, 'sparse', xA, yA);
drawRegions(layerA, aNaiveDense, colNaive, 'dense', xA, yA);
drawRegions(layerA, aIL10Dense, colIL10, 'dense', xA, yA);
drawRegions(layerA, aIL13Dense, colIL13, 'dense', xA, yA);
drawRegions(layerA, aIFNgDense, colIFNg, 'dense', xA, yA);
drawRegions(layerA, aIFNbDense, colIFNb, 'dense', xA, yA);
drawPoints(gA, aNaive, colNaive, 2.6, xA, yA);
drawPoints(gA, aIL13, colIL13, 2.6, xA, yA);
drawPoints(gA, aIL10, colIL10, 2.6, xA, yA);
drawPoints(gA, aIFNg, colIFNg, 2.6, xA, yA);
drawPoints(gA, aIFNb, colIFNb, 2.6, xA, yA);
drawPoints(gA, aIL4, colIL4, 2.6, xA, yA);
drawAxes(gA, {left:124.5, right:767, top:94.4, bottom:692.3}, aXTicks, aYTicks, xA, yA, 741, 109);

/* ---------- Panel B ---------- */
const gB = document.getElementById('panelB');
const layerB = regionLayer(gB, 'roughLarge');
drawRegions(layerB, bCl1Sparse, colCl1, 'sparse', xB, yB);
drawRegions(layerB, bCl2Sparse, colCl2, 'sparse', xB, yB);
drawRegions(layerB, bCl3Sparse, colCl3, 'sparse', xB, yB);
drawRegions(layerB, bCl1Dense, colCl1, 'dense', xB, yB);
drawRegions(layerB, bCl2Dense, colCl2, 'dense', xB, yB);
drawRegions(layerB, bCl3Dense, colCl3, 'dense', xB, yB);
drawPoints(gB, bCl1, colCl1, 2, xB, yB);
drawPoints(gB, bCl2, colCl2, 2, xB, yB);
drawPoints(gB, bCl3, colCl3, 2, xB, yB);
drawAxes(gB, {left:938.6, right:1576.5, top:99.5, bottom:692.9}, bXTicks, bYTicks, xB, yB, 741, 923);

/* ---------- Panel C ---------- */
const gC = document.getElementById('panelC');
const layerC = regionLayer(gC, 'roughSmall');
drawRegions(layerC, cNaiveDense, colNaive, 'dense', xC, yC);
drawRegions(layerC, cIL10Dense, colIL10, 'dense', xC, yC);
drawRegions(layerC, cIL13Dense, colIL13, 'dense', xC, yC);
drawRegions(layerC, cIFNbDense, colIFNb, 'dense', xC, yC);
[naiveCl1, naiveCl2, naiveCl3].forEach(s => drawPoints(gC, s, colNaive, 2.7, xC, yC));
[il13Cl1, il13Cl2, il13Cl3].forEach(s => drawPoints(gC, s, colIL13, 2.7, xC, yC));
[il10Cl1, il10Cl2, il10Cl3].forEach(s => drawPoints(gC, s, colIL10, 2.7, xC, yC));
[ifngCl1, ifngCl2, ifngCl3].forEach(s => drawPoints(gC, s, colIFNg, 2.7, xC, yC));
[ifnbCl1, ifnbCl3].forEach(s => drawPoints(gC, s, colIFNb, 2.7, xC, yC));
[il4Cl1, il4Cl2].forEach(s => drawPoints(gC, s, colIL4, 2.7, xC, yC));
drawAxes(gC, {left:127.7, right:758.3, top:895.9, bottom:1482}, cXTicks, cYTicks, xC, yC, 1530, 112.5);

/* ---------- Panel D ---------- */
const gD = document.getElementById('panelD');
[naiveCl1, il13Cl1, il10Cl1, ifngCl1, ifnbCl1, il4Cl1].forEach(s => drawPoints(gD, s, colCl1, 2.7, xD, yD));
[naiveCl3, il13Cl3, il10Cl3, ifngCl3, ifnbCl3].forEach(s => drawPoints(gD, s, colCl3, 2.7, xD, yD));
[naiveCl2, il13Cl2, il10Cl2, ifngCl2, il4Cl2].forEach(s => drawPoints(gD, s, colCl2, 2.7, xD, yD));
const layerD = regionLayer(gD, 'roughSmall');
drawRegions(layerD, dCl1Dense, colCl1, 'dense', xD, yD);
drawRegions(layerD, dCl2Dense, colCl2, 'dense', xD, yD);
drawRegions(layerD, dCl3Dense, colCl3, 'dense', xD, yD);
drawAxes(gD, {left:968, right:1625, top:868.9, bottom:1479.6}, dXTicks, dYTicks, xD, yD, 1529, 952.7);

/* ---------- Panels E and F ---------- */
drawStack(document.getElementById('panelE'), [eCluster3, eCluster2, eCluster1], [barCl3, barCl2, barCl1], xE, 71.5, yE);
drawStack(document.getElementById('panelF'), [fIL4, fIFNb, fIFNg, fIL10, fIL13, fNaive], [barIL4, barIFNb, barIFNg, barIL10, barIL13, barNaive], xF, 139.2, yF);
</script>
</body>
</html>
